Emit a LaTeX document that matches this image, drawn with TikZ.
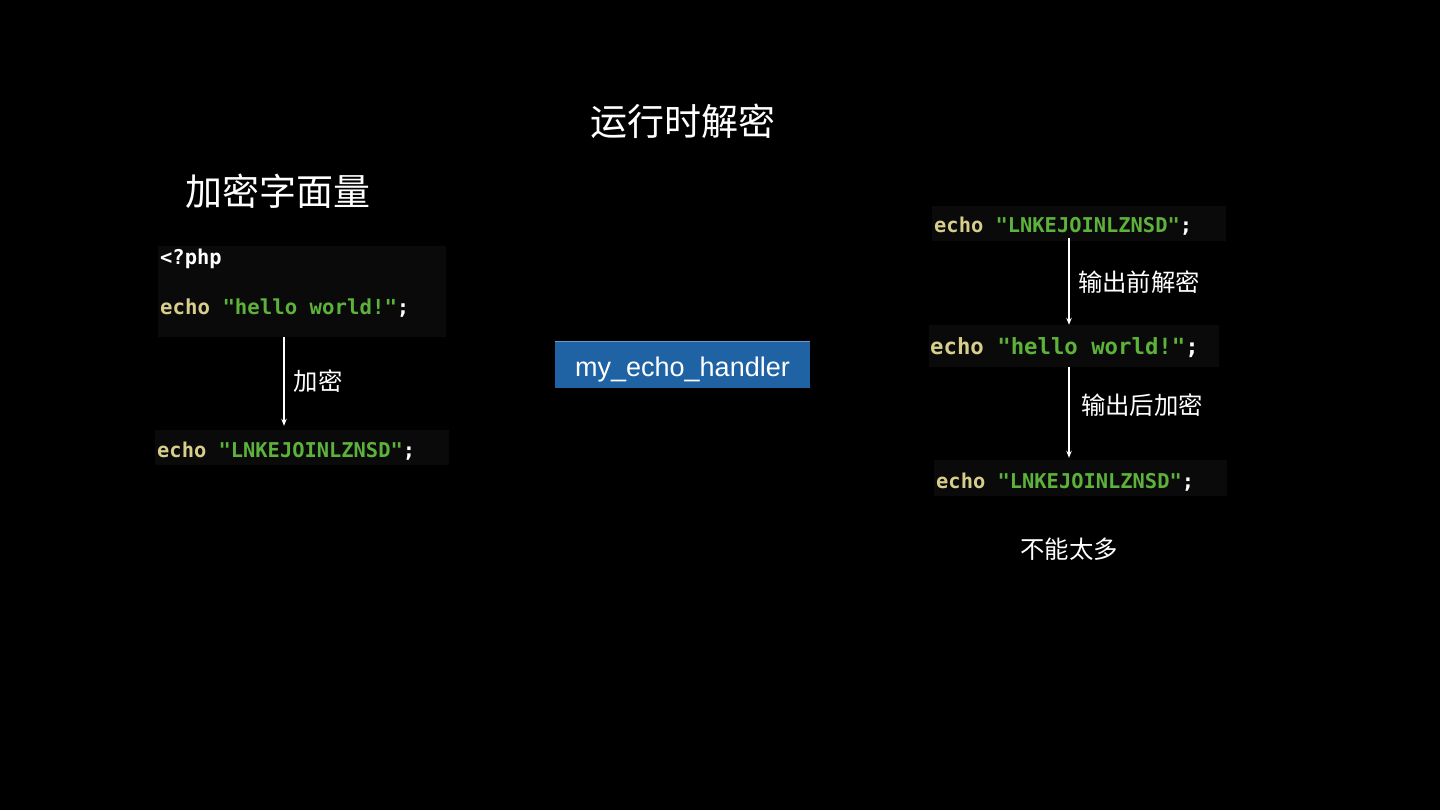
\documentclass[tikz,border=0pt]{standalone}
\usepackage{fontspec}
\usetikzlibrary{arrows.meta}
\setmainfont{Liberation Sans}
\newfontfamily\cjk{Noto Sans CJK SC}
\newfontfamily\code{DejaVu Sans Mono}
\newfontfamily\hel{Liberation Sans}
\definecolor{kw}{HTML}{D6CE8A}
\definecolor{str}{HTML}{5DB23B}
\definecolor{codebg}{HTML}{0A0A0A}
\definecolor{handler}{HTML}{1F63A5}
\definecolor{handlertop}{HTML}{6F98C4}
\begin{document}
\begin{tikzpicture}[x=1pt,y=-1pt,
  codebox/.style={fill=codebg, draw=none, inner sep=0pt},
  codetext/.style={anchor=base west, inner sep=0pt, font=\code\bfseries\fontsize{20.4}{24}\selectfont},
  cjktitle/.style={text=white, inner sep=0pt, font=\cjk\fontsize{37}{44}\selectfont},
  cjklabel/.style={text=white, inner sep=0pt, font=\cjk\fontsize{24.4}{29}\selectfont},
  arr/.style={draw=white, line width=1.1pt, -{Stealth[length=7pt,width=5.5pt]}}]
\fill[black] (0,0) rectangle (1440,810);
\useasboundingbox (0,0) rectangle (1440,810);

% titles
\node[cjktitle] (title) at (683,121) {运行时解密};
\node[cjktitle] (ltitle) at (278,191) {加密字面量};

% left code boxes
\node[codebox, minimum width=288pt, minimum height=91pt] (ltop) at (302,291.5) {};
\node[codebox, minimum width=294pt, minimum height=35pt] (lbot) at (302,447.5) {};
\node[codetext, text=white] (php) at (160,265) {<?php};
\node[codetext, font=\code\bfseries\fontsize{20.7}{24}\selectfont] (lhello) at (160,315) {\textcolor{kw}{echo} \textcolor{str}{"hello world!"}\textcolor{white}{;}};
\node[codetext] (lenc) at (157,457) {\textcolor{kw}{echo} \textcolor{str}{"LNKEJOINLZNSD"}\textcolor{white}{;}};
\draw[arr] ([xshift=-18pt]ltop.south) -- ([xshift=-18pt,yshift=4pt]lbot.north);
\node[cjklabel] (enc) at (318,381) {加密};

% handler
\node[fill=handler, minimum width=255pt, minimum height=46pt, inner sep=0pt] (h) at (682.5,365) {};
\node[anchor=base, inner sep=0pt, text=white, font=\hel\fontsize{27}{32}\selectfont] (ht) at (682.5,376) {my\_echo\_handler};
\draw[handlertop, line width=1pt] (h.north west) -- (h.north east);

% right code boxes
\node[codebox, minimum width=294pt, minimum height=35pt] (rtop) at (1079,223.5) {};
\node[codebox, minimum width=290pt, minimum height=42pt] (rmid) at (1074,346) {};
\node[codebox, minimum width=293pt, minimum height=36pt] (rbot) at (1080.5,478) {};
\node[codetext] (rtopt) at (934,233) {\textcolor{kw}{echo} \textcolor{str}{"LNKEJOINLZNSD"}\textcolor{white}{;}};
\node[codetext, font=\code\bfseries\fontsize{22.3}{26}\selectfont] (rmidt) at (930,354) {\textcolor{kw}{echo} \textcolor{str}{"hello world!"}\textcolor{white}{;}};
\node[codetext] (rbott) at (936,488) {\textcolor{kw}{echo} \textcolor{str}{"LNKEJOINLZNSD"}\textcolor{white}{;}};
\draw[arr] ([xshift=-10pt,yshift=3pt]rtop.south) -- ([xshift=-5pt]rmid.north);
\draw[arr] ([xshift=-5pt]rmid.south) -- ([xshift=-11.5pt,yshift=2pt]rbot.north);
\node[cjklabel] (dec) at (1139,282) {输出前解密};
\node[cjklabel] (reenc) at (1142,405) {输出后加密};
\node[cjklabel] (many) at (1069,549) {不能太多};
\end{tikzpicture}
\end{document}
